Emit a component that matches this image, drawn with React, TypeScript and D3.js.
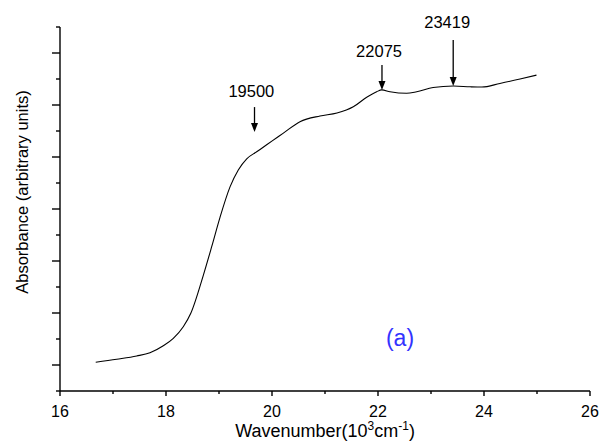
import React from "react";
import * as d3 from "d3";

const waveX = [16.674, 17.07, 17.447, 17.698, 17.949, 18.138, 18.326, 18.47, 18.704, 18.862, 19.019, 19.208, 19.364, 19.523, 19.711, 19.906, 20.089, 20.208, 20.528, 20.906, 21.226, 21.534, 21.787, 21.975, 22.07, 22.226, 22.54, 22.73, 23.04, 23.42, 23.74, 23.96, 24.3, 24.68, 24.99];
const absY = [1.104, 1.22, 1.346, 1.473, 1.742, 2.027, 2.473, 3.0, 4.45, 5.55, 6.68, 7.85, 8.5, 8.93, 9.2, 9.48, 9.74, 9.91, 10.36, 10.577, 10.69, 10.93, 11.3, 11.51, 11.58, 11.51, 11.45, 11.51, 11.67, 11.73, 11.7, 11.69, 11.83, 12.0, 12.15];

const xTicks = [16, 18, 20, 22, 24, 26];
const xMinor = [17, 19, 21, 23, 25];
const yMajor = [1, 3, 5, 7, 9, 11, 13];
const yMinor = [0, 2, 4, 6, 8, 10, 12, 14];

const annLabels = ["19500", "22075", "23419"];
const annX = [19.67, 22.075, 23.419];
const annTip = [9.96, 11.58, 11.73];
const annTop = [10.92, 12.54, 13.5];
const annTextX = [19.61, 22.02, 23.305];
const annTextY = [11.3, 12.85, 13.97];

const W = 600, H = 446;
const FONT = "'Liberation Sans', Arial, Helvetica, sans-serif";

export default function App() {
  const x = d3.scaleLinear().domain([16, 26]).range([60, 590]);
  const y = d3.scaleLinear().domain([0, 14]).range([391, 27]);
  const pts: [number, number][] = waveX.map((v, i) => [v, absY[i]]);
  const line = d3.line<[number, number]>().x(d => x(d[0])).y(d => y(d[1])).curve(d3.curveMonotoneX);

  return (
    <svg width={W} height={H} style={{ position: "absolute", left: 0, top: 0, background: "#fff" }} fontFamily={FONT}>
      <rect x={0} y={0} width={W} height={H} fill="#fff" />
      <line x1={x(16)} x2={x(26)} y1={y(0)} y2={y(0)} stroke="#000" strokeWidth={1.4} />
      <line x1={x(16)} x2={x(16)} y1={y(0)} y2={y(14)} stroke="#000" strokeWidth={1.4} />
      {xTicks.map(t => (
        <g key={"xt" + t}>
          <line x1={x(t)} x2={x(t)} y1={y(0)} y2={y(0) + 5} stroke="#000" strokeWidth={1.4} />
          <text x={x(t)} y={417} fontSize={16} textAnchor="middle" fill="#000">{t}</text>
        </g>
      ))}
      {xMinor.map(t => (
        <line key={"xm" + t} x1={x(t)} x2={x(t)} y1={y(0)} y2={y(0) + 3} stroke="#000" strokeWidth={1.4} />
      ))}
      {yMajor.map(t => (
        <line key={"ym" + t} x1={x(16) - 8} x2={x(16)} y1={y(t)} y2={y(t)} stroke="#000" strokeWidth={1.4} />
      ))}
      {yMinor.map(t => (
        <line key={"yn" + t} x1={x(16) - 4} x2={x(16)} y1={y(t)} y2={y(t)} stroke="#000" strokeWidth={1.4} />
      ))}
      <text x={325} y={437} fontSize={18} textAnchor="middle" fill="#000">
        Wavenumber(10<tspan fontSize={12} dy={-7}>3</tspan><tspan dy={7}>cm</tspan><tspan fontSize={12} dy={-7}>-1</tspan><tspan dy={7}>)</tspan>
      </text>
      <text transform={`translate(28,192) rotate(-90)`} fontSize={16.5} textAnchor="middle" fill="#000">Absorbance (arbitrary units)</text>
      <path d={line(pts) || ""} fill="none" stroke="#000" strokeWidth={1.1} />
      {annLabels.map((lab, i) => {
        const ax = x(annX[i]);
        const tip = y(annTip[i]);
        const top = y(annTop[i]);
        return (
          <g key={lab}>
            <line x1={ax} x2={ax} y1={top} y2={tip - 7} stroke="#000" strokeWidth={1.3} />
            <path d={`M${ax - 3.5},${tip - 9} L${ax + 3.5},${tip - 9} L${ax},${tip} Z`} fill="#000" />
            <text x={x(annTextX[i])} y={y(annTextY[i])} fontSize={16.5} textAnchor="middle" fill="#000">{lab}</text>
          </g>
        );
      })}
      <text x={400} y={346} fontSize={23} textAnchor="middle" fill="#3333ff">(a)</text>
    </svg>
  );
}
